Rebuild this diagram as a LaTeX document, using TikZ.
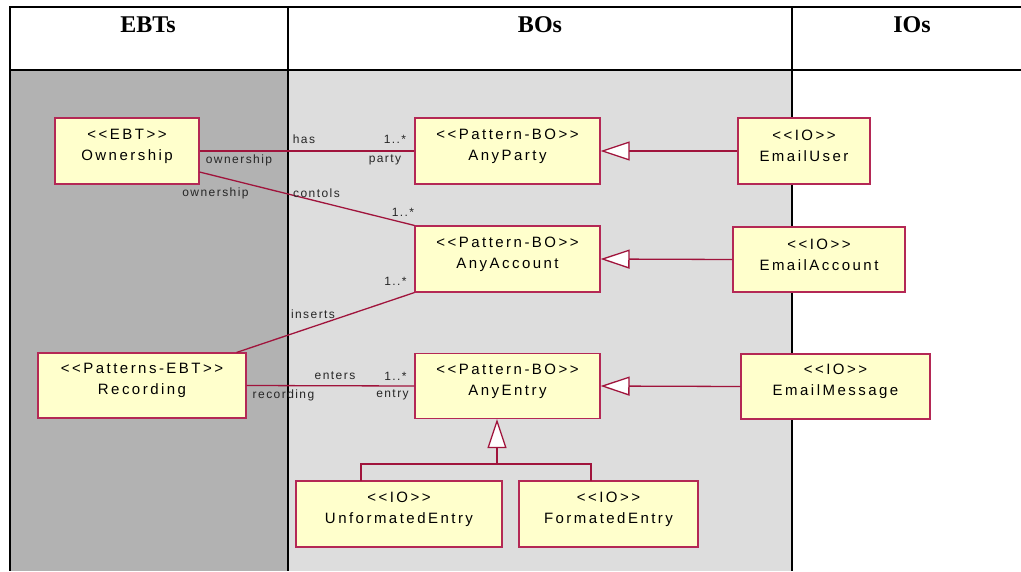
\documentclass[tikz,border=0pt]{standalone}
\usepackage{fontspec}
\setmainfont{Liberation Serif}
\newfontfamily\boxfam[LetterSpace=16.5]{Liberation Sans}
\newfontfamily\rolefam[LetterSpace=12]{Liberation Sans}
\usetikzlibrary{arrows.meta}
\definecolor{boxfill}{RGB}{255,255,204}
\definecolor{boxline}{RGB}{180,40,85}
\definecolor{linkcol}{RGB}{160,20,60}
\definecolor{ebtgray}{RGB}{178,178,178}
\definecolor{bogray}{RGB}{221,221,221}
\tikzset{
  umlbox/.style={draw=boxline, fill=boxfill, line width=1.1pt, inner sep=0pt},
  boxtext/.style={align=center, font=\boxfam\fontsize{15}{21}\selectfont, inner sep=0pt},
  assoc/.style={draw=linkcol, line width=1.3pt},
  gen/.style={draw=linkcol, line width=1.3pt, -{Triangle[length=29pt,width=19pt,fill=white]}},
  rolelbl/.style={font=\rolefam\fontsize{12}{14}\selectfont, inner sep=0pt, text=black!85},
  header/.style={font=\fontsize{24}{26}\selectfont\bfseries, inner sep=0pt},
  frameline/.style={draw=black, line width=2.4pt}
}
\begin{document}
\begin{tikzpicture}[x=1pt,y=-1pt]
\useasboundingbox (0,0) rectangle (1021,571);
% column backgrounds
\fill[ebtgray] (10,70) rectangle (288,571);
\fill[bogray] (288,70) rectangle (792,571);
% frame
\draw[frameline] (9,7) -- (1021,7);
\draw[frameline] (10,7) -- (10,571);
\draw[draw=black, line width=2pt] (10,70) -- (1021,70);
\draw[draw=black, line width=2pt] (288,7) -- (288,571);
\draw[draw=black, line width=2pt] (792,7) -- (792,571);
% headers
\node[header] (hEBT) at (148,25) {EBTs};
\node[header] (hBO) at (540,25) {BOs};
\node[header] (hIO) at (912,25) {IOs};
% boxes
\node[umlbox, minimum width=144pt, minimum height=66pt, label={[boxtext,yshift=5pt]center:{<<EBT>>\\Ownership}}] (own) at (127,151) {};
\node[umlbox, minimum width=185pt, minimum height=66pt, label={[boxtext,yshift=5pt]center:{<<Pattern-BO>>\\AnyParty}}] (party) at (507.5,151) {};
\node[umlbox, minimum width=132pt, minimum height=66pt, label={[boxtext,yshift=5pt]center:{<<IO>>\\EmailUser}}] (euser) at (804,151) {};
\node[umlbox, minimum width=185pt, minimum height=66pt, label={[boxtext,yshift=5pt]center:{<<Pattern-BO>>\\AnyAccount}}] (account) at (507.5,259) {};
\node[umlbox, minimum width=172pt, minimum height=65pt, label={[boxtext,yshift=5pt]center:{<<IO>>\\EmailAccount}}] (eaccount) at (819,259.5) {};
\node[umlbox, minimum width=208pt, minimum height=65pt, label={[boxtext,yshift=5pt]center:{<<Patterns-EBT>>\\Recording}}] (rec) at (142,385.5) {};
\node[umlbox, minimum width=185pt, minimum height=65pt, label={[boxtext,yshift=5pt]center:{<<Pattern-BO>>\\AnyEntry}}] (entry) at (507.5,386) {};
\node[umlbox, minimum width=189pt, minimum height=65pt, label={[boxtext,yshift=5pt]center:{<<IO>>\\EmailMessage}}] (emsg) at (835.5,386.5) {};
\node[umlbox, minimum width=206pt, minimum height=66pt, label={[boxtext,yshift=5pt]center:{<<IO>>\\UnformatedEntry}}] (unf) at (399,514) {};
\node[umlbox, minimum width=179pt, minimum height=66pt, label={[boxtext,yshift=5pt]center:{<<IO>>\\FormatedEntry}}] (fmt) at (608.5,514) {};
% associations
\draw[assoc] (own.east) -- (party.west);
\draw[assoc] ([yshift=-21pt]own.east) -- (account.north west);
\draw[assoc] ([xshift=-10pt]rec.north east) -- (account.south west);
\draw[assoc] (rec.east) -- (entry.west);
% generalizations
\draw[gen] (euser.west) -- (party.east);
\draw[gen] (eaccount.west) -- (account.east);
\draw[gen] (emsg.west) -- (entry.east);
\coordinate (junc) at (497,464);
\coordinate (unfTop) at (361,481);
\coordinate (fmtTop) at (591,481);
\draw[assoc] (unfTop) |- (junc) -| (fmtTop);
\draw[gen] (junc) -- (entry.south -| junc);
% role labels
\node[rolelbl] (l1) at (304,139) {has};
\node[rolelbl] (l2) at (395,139) {1..*};
\node[rolelbl] (l3) at (239,160) {ownership};
\node[rolelbl] (l4) at (385,160) {party};
\node[rolelbl] (l5) at (215.5,193) {ownership};
\node[rolelbl] (l6) at (316.5,193) {contols};
\node[rolelbl] (l7) at (403,212) {1..*};
\node[rolelbl] (l8) at (313,314) {inserts};
\node[rolelbl] (l9) at (395.5,281) {1..*};
\node[rolelbl] (l10) at (335,376) {enters};
\node[rolelbl] (l11) at (395.5,376) {1..*};
\node[rolelbl] (l12) at (283.5,395) {recording};
\node[rolelbl] (l13) at (392.5,395) {entry};
\end{tikzpicture}
\end{document}
